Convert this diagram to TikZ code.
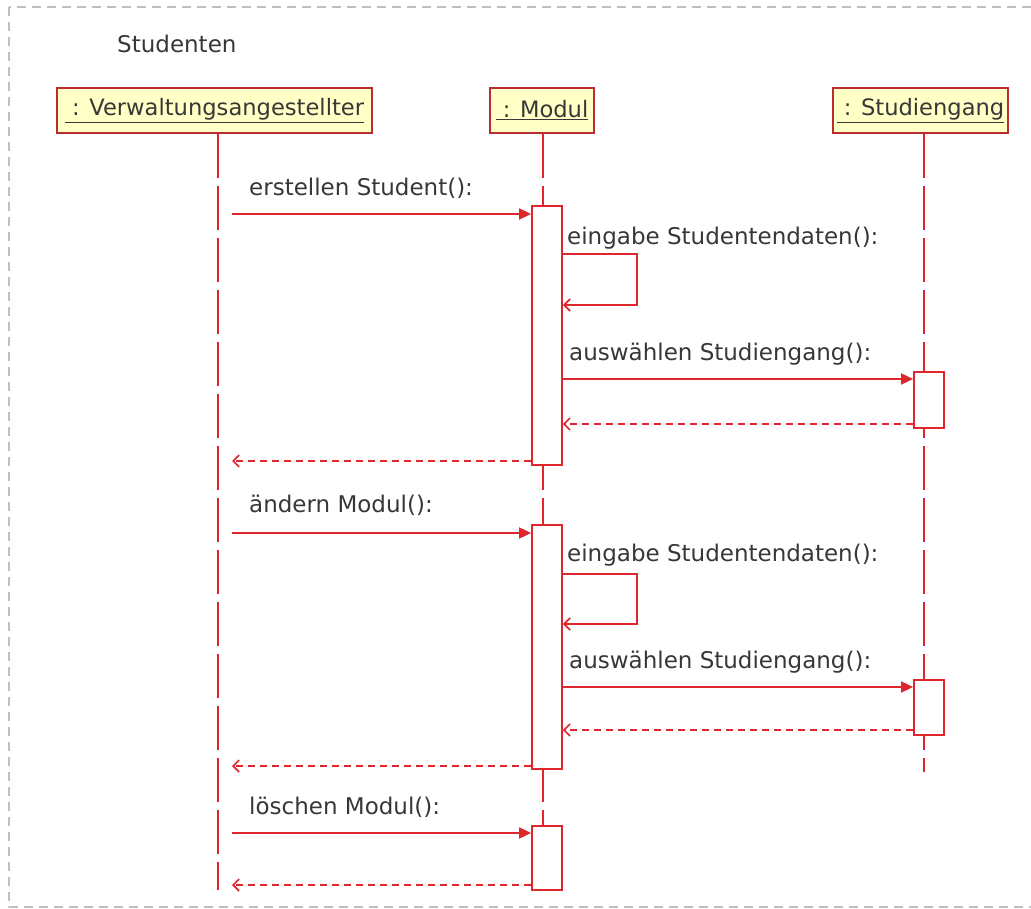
\documentclass[tikz,border=0pt]{standalone}
\usepackage{fontspec}
\setmainfont{DejaVu Sans}
\usetikzlibrary{arrows.meta}
\definecolor{umlred}{RGB}{222,38,44}
\definecolor{headred}{RGB}{185,45,50}
\definecolor{headfill}{RGB}{255,255,198}
\definecolor{txt}{RGB}{55,55,55}

\begin{document}
\begin{tikzpicture}[x=1pt, y=-1pt, font=\fontsize{23}{28}\selectfont, text=txt,
	head/.style = {draw=headred, fill=headfill, line width=1.8pt, minimum height=45pt, inner sep=0pt, font=\fontsize{22.6}{27}\selectfont},
	act/.style = {draw=umlred, fill=white, line width=1.8pt, minimum width=30pt, inner sep=0pt},
	life/.style = {umlred, line width=1.8pt, dash pattern=on 44pt off 8pt},
	call/.style = {umlred, line width=1.8pt, -{Triangle[length=12pt,width=11pt]}},
	ret/.style = {umlred, line width=1.6pt, dash pattern=on 7pt off 5pt, -{Straight Barb[length=6pt,width=12pt]}},
	self/.style = {umlred, line width=1.8pt, -{Straight Barb[length=6pt,width=12pt]}},
	msg/.style = {anchor=west, inner sep=0pt}]
	\useasboundingbox (0,0) rectangle (1031,909);
	\draw[gray!50, line width=1.5pt, dash pattern=on 9pt off 6pt] (9,7) rectangle (1045,907);
	\node[anchor=west, inner sep=0pt] (title) at (117,44) {Studenten};

	% lifeline heads
	\node[head, minimum width=315pt] (va) at (214.5,110.5) {\underline{\ : Verwaltungsangestellter}};
	\node[head, minimum width=104pt] (mo) at (542,110.5) {\underline{\ : Modul}};
	\node[head, minimum width=175pt] (sg) at (920.5,110.5) {\underline{\ : Studiengang}};
	\coordinate (vaEnd) at (218,890);
	\coordinate (moEnd) at (543,890);
	\coordinate (sgEnd) at (924,772);
	\draw[life] (va.south -| vaEnd) -- (vaEnd);
	\draw[life] (mo.south -| moEnd) -- (moEnd);
	\draw[life] (sg.south -| sgEnd) -- (sgEnd);

	% activations
	\node[act, minimum height=259pt] (m1) at (547,335.5) {};
	\node[act, minimum height=244pt] (m2) at (547,647) {};
	\node[act, minimum height=64pt] (m3) at (547,858) {};
	\node[act, minimum height=56pt] (s1) at (929,400) {};
	\node[act, minimum height=55pt] (s2) at (929,707.5) {};

	% erstellen
	\coordinate (c1) at (232,214);
	\node[msg] (l1) at (249,188) {erstellen Student():};
	\draw[call] (c1) -- (c1 -| m1.west);
	\node[msg] (l2) at (567,238) {eingabe Studentendaten():};
	\coordinate (sc1) at (637,254);
	\draw[self] (sc1 -| m1.east) -- (sc1) -- (637,305) -- (m1.east |- 0,305);
	\node[msg] (l3) at (569,354) {auswählen Studiengang():};
	\draw[call] (m1.east |- 0,379) -- (s1.west |- 0,379);
	\draw[ret] (s1.west |- 0,424) -- (m1.east |- 0,424);
	\draw[ret] (m1.west |- 0,461) -- (c1 |- 0,461);

	% aendern
	\coordinate (c2) at (232,533);
	\node[msg] (l4) at (249,505) {ändern Modul():};
	\draw[call] (c2) -- (c2 -| m2.west);
	\node[msg] (l5) at (567,555) {eingabe Studentendaten():};
	\coordinate (sc2) at (637,574);
	\draw[self] (sc2 -| m2.east) -- (sc2) -- (637,624) -- (m2.east |- 0,624);
	\node[msg] (l6) at (569,662) {auswählen Studiengang():};
	\draw[call] (m2.east |- 0,687) -- (s2.west |- 0,687);
	\draw[ret] (s2.west |- 0,730) -- (m2.east |- 0,730);
	\draw[ret] (m2.west |- 0,766) -- (c2 |- 0,766);

	% loeschen
	\coordinate (c3) at (232,833);
	\node[msg] (l7) at (249,807) {löschen Modul():};
	\draw[call] (c3) -- (c3 -| m3.west);
	\draw[ret] (m3.west |- 0,885) -- (c3 |- 0,885);
\end{tikzpicture}
\end{document}
